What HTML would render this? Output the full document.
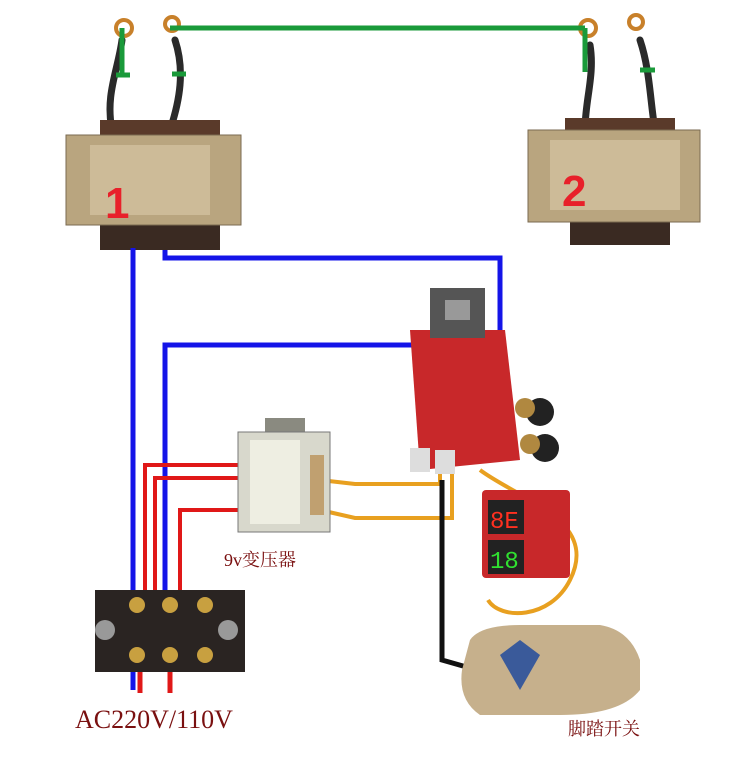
<!DOCTYPE html>
<html><head><meta charset="utf-8"><style>
html,body{margin:0;padding:0;background:#fff;width:752px;height:763px;overflow:hidden}
</style></head><body>
<svg width="752" height="763" xmlns="http://www.w3.org/2000/svg">
<!-- lugs / top cables -->
<g stroke="#2a2a2a" stroke-width="7" fill="none" stroke-linecap="round">
<path d="M122 40 C118 70,105 95,112 130"/>
<path d="M175 40 C185 70,180 100,170 130"/>
<path d="M590 45 C595 75,585 100,585 130"/>
<path d="M640 40 C650 70,650 100,655 130"/>
</g>
<g fill="none" stroke="#c8802a" stroke-width="4">
<circle cx="124" cy="28" r="8"/><circle cx="172" cy="24" r="7"/>
<circle cx="588" cy="28" r="8"/><circle cx="636" cy="22" r="7"/>
</g>
<!-- green -->
<g stroke="#1a9a3a" stroke-width="5" fill="none">
<path d="M170 28 H585"/>
<path d="M122 28 V75 M116 75 H130"/>
<path d="M172 74 H186"/>
<path d="M585 28 V72"/>
<path d="M640 70 H655"/>
</g>
<!-- transformer 1 -->
<rect x="100" y="120" width="120" height="20" fill="#5a3a2a"/>
<rect x="100" y="222" width="120" height="28" fill="#3a2a22"/>
<rect x="66" y="135" width="175" height="90" fill="#b9a57f" stroke="#7a6a50"/>
<rect x="90" y="145" width="120" height="70" fill="#cdbb98"/>
<text x="105" y="218" font-family="Liberation Sans,sans-serif" font-weight="bold" font-size="44" fill="#e8202a">1</text>
<!-- transformer 2 -->
<rect x="565" y="118" width="110" height="20" fill="#5a3a2a"/>
<rect x="570" y="220" width="100" height="25" fill="#3a2a22"/>
<rect x="528" y="130" width="172" height="92" fill="#b9a57f" stroke="#7a6a50"/>
<rect x="550" y="140" width="130" height="70" fill="#cdbb98"/>
<text x="562" y="206" font-family="Liberation Sans,sans-serif" font-weight="bold" font-size="44" fill="#e8202a">2</text>
<!-- blue wires -->
<g stroke="#1414e8" stroke-width="5" fill="none">
<path d="M133 248 V690"/>
<path d="M165 250 V258 H500 V345"/>
<path d="M415 345 H165 V600"/>
</g>
<!-- red wires -->
<g stroke="#e01818" stroke-width="4" fill="none">
<path d="M145 600 V465 H240"/>
<path d="M155 600 V478 H240"/>
<path d="M180 600 V510 H240"/>
<path d="M140 672 V693 M170 672 V693" stroke-width="5"/>
</g>
<!-- orange wires -->
<g stroke="#e8a020" stroke-width="4" fill="none">
<path d="M320 480 L355 484 H440 V460"/>
<path d="M320 510 L355 518 H452 V460"/>
<path d="M480 470 C520 500,600 520,570 580 C550 620,500 620,488 600"/>
</g>
<!-- black wire -->
<path d="M442 480 V660 L470 668" stroke="#111" stroke-width="5" fill="none"/>
<!-- small transformer -->
<rect x="265" y="418" width="40" height="20" fill="#8a8a80"/>
<rect x="238" y="432" width="92" height="100" fill="#d8d8cc" stroke="#777"/>
<rect x="250" y="440" width="50" height="84" fill="#eeeee2"/>
<rect x="310" y="455" width="14" height="60" fill="#c0a070"/>
<text x="224" y="566" font-family="Liberation Serif,'Noto Serif CJK SC',serif" font-size="18" fill="#7a1010">9v变压器</text>
<!-- red board -->
<polygon points="410,330 505,330 520,460 420,470" fill="#c8282a"/>
<rect x="430" y="288" width="55" height="50" fill="#555"/>
<rect x="445" y="300" width="25" height="20" fill="#999"/>
<circle cx="540" cy="412" r="14" fill="#222"/><circle cx="525" cy="408" r="10" fill="#b08840"/>
<circle cx="545" cy="448" r="14" fill="#222"/><circle cx="530" cy="444" r="10" fill="#b08840"/>
<rect x="410" y="448" width="20" height="24" fill="#ddd"/><rect x="435" y="450" width="20" height="24" fill="#ddd"/>
<!-- display -->
<rect x="482" y="490" width="88" height="88" fill="#c8282a" rx="4"/>
<rect x="488" y="500" width="36" height="34" fill="#222"/>
<text x="490" y="528" font-family="Liberation Mono,monospace" font-size="24" fill="#ff3020">8E</text>
<rect x="488" y="540" width="36" height="34" fill="#222"/>
<text x="490" y="568" font-family="Liberation Mono,monospace" font-size="24" fill="#30e030">18</text>
<!-- terminal block -->
<rect x="95" y="590" width="150" height="82" fill="#2a2422"/>
<g fill="#c8a040"><circle cx="137" cy="605" r="8"/><circle cx="170" cy="605" r="8"/><circle cx="205" cy="605" r="8"/><circle cx="137" cy="655" r="8"/><circle cx="170" cy="655" r="8"/><circle cx="205" cy="655" r="8"/></g>
<circle cx="105" cy="630" r="10" fill="#999"/><circle cx="228" cy="630" r="10" fill="#999"/>
<!-- pedal -->
<path d="M470 640 Q480 625 520 625 L600 625 Q630 630 640 660 L640 690 Q620 715 560 715 L480 715 Q458 700 462 670 Z" fill="#c6b08c"/>
<polygon points="520,640 540,655 520,690 500,655" fill="#3a5a9a"/>
<text x="75" y="728" font-family="Liberation Serif,serif" font-size="26" fill="#7a1010">AC220V/110V</text>
<text x="568" y="735" font-family="Liberation Serif,'Noto Serif CJK SC',serif" font-size="18" fill="#7a1010">脚踏开关</text>
</svg>
</body></html>
